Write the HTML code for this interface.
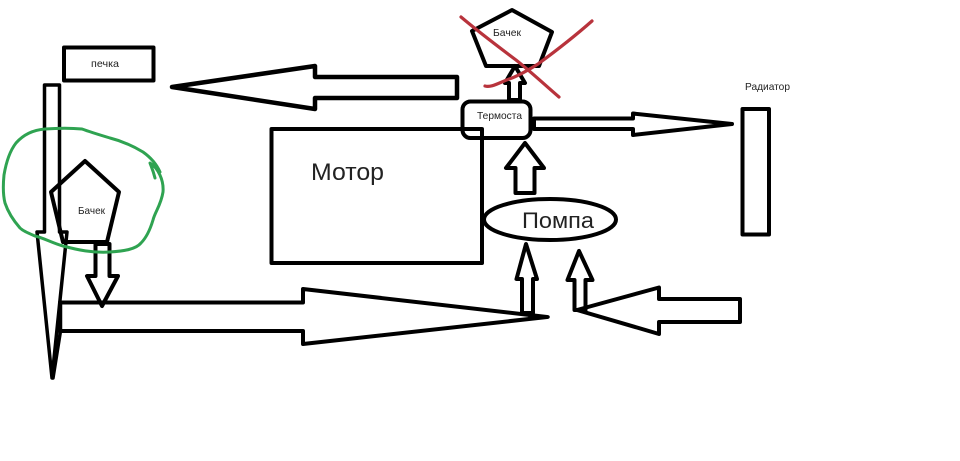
<!DOCTYPE html>
<html>
<head>
<meta charset="utf-8">
<style>
html,body{margin:0;padding:0;background:#fff;width:960px;height:461px;overflow:hidden}
svg{display:block}
text{font-family:"Liberation Sans","Noto Sans CJK SC",sans-serif;fill:#222}
</style>
</head>
<body>
<svg width="960" height="461" viewBox="0 0 960 461" xmlns="http://www.w3.org/2000/svg">
<rect width="960" height="461" fill="#fff"/>
<g fill="none" stroke="#000" stroke-width="4" stroke-linejoin="round" stroke-linecap="round">
  <!-- печка -->
  <rect x="64" y="47.5" width="89.5" height="33" stroke-width="4"/>
  <!-- вертикальная стрелка вниз -->
  <polygon points="44.5,85 59.5,85 59.5,232 67,232 52,378 37,232 44.5,232" stroke-width="3.5"/>
  <path d="M60.5,302 L60.5,331 L53,378" stroke-width="3.5"/>
  <!-- бачек слева -->
  <polygon points="85,161 119,192 107,242 63,242 51,192"/>
  <!-- вниз -->
  <polygon points="95.5,244 109.5,244 109.5,276 118,276 102,306 87,276 95.5,276"/>
  <!-- длинная стрелка -->
  <polygon points="60,302.5 303,302.5 303,289 547,317 303,344 303,331 60,331"/>
  <!-- стрелка к печке -->
  <polygon points="172,87 315,66 315,77 457,77 457,98 315,98 315,109" stroke-width="4.5"/>
  <!-- мотор -->
  <rect x="271.5" y="129" width="210.5" height="134"/>
  <!-- термостат -->
  <rect x="462.5" y="101.5" width="68" height="36.5" rx="8" ry="8"/>
  <!-- бачек верх -->
  <polygon points="512,10 552,32 539,66 486,66 472,31"/>
  <polygon points="509,100 509,83 505,83 515,66 525,83 520,83 520,100"/>
  <!-- вправо к радиатору -->
  <polygon points="534,118.5 633,118.5 633,113.5 732,124 633,135 633,129 534,129"/>
  <!-- радиатор -->
  <rect x="742.5" y="109" width="26.5" height="125.5"/>
  <!-- вверх от помпы к термостату -->
  <polygon points="515.5,193 534.5,193 534.5,168 544,168 525,143 506,168 515.5,168"/>
  <!-- помпа -->
  <ellipse cx="550" cy="219.5" rx="66" ry="20.5"/>
  <!-- стрелки к помпе -->
  <polygon points="522,313 533,313 533,279 537,279 526,244 516.5,279 522,279"/>
  <polygon points="574.5,310 585.5,310 585.5,280 592.5,280 579,251 567.5,280 574.5,280"/>
  <!-- стрелка справа -->
  <polygon points="577,310 659,287.5 659,299 740,299 740,322 659,322 659,334"/>
</g>
<path d="M530,316.5 L548,317" stroke="#000" stroke-width="3.5" stroke-linecap="round"/>
<!-- зелёный контур -->
<path d="M155,178 C153,170 151,166 150,163 C158,168 164,180 163,192 C161,205 155,212 153,220 C150,230 146,238 141,243 C136,249 125,251 110,252 C92,253 78,250 63,246 C52,243 44,238 35,236 C28,233 23,231 20,228 C13,220 8,212 5,203 C3,195 3,185 4,175 C6,163 9,152 16,143 C23,135 33,130 45,129 C58,128 72,128 82,129 C90,132 100,135 110,138 C122,141 133,146 143,152 C150,157 156,163 160,172" fill="none" stroke="#2fa351" stroke-width="3" stroke-linecap="round" stroke-linejoin="round"/>
<!-- красный крест -->
<g fill="none" stroke="#b8333c" stroke-width="3.2" stroke-linecap="round">
  <path d="M461,17 C480,33 500,48 516,60 C530,71 545,85 559,97"/>
  <path d="M485,86 C492,88 500,82 512,78 C522,74 530,69 538,64 C553,53 575,36 592,21"/>
</g>
<!-- подписи -->
<text x="91" y="67" font-size="10.5" textLength="28" lengthAdjust="spacingAndGlyphs">печка</text>
<text x="78" y="214" font-size="10.5" textLength="27" lengthAdjust="spacingAndGlyphs">Бачек</text>
<text x="493" y="36" font-size="10.5" textLength="28" lengthAdjust="spacingAndGlyphs">Бачек</text>
<text x="477" y="119" font-size="10.5" textLength="45" lengthAdjust="spacingAndGlyphs">Термоста</text>
<text x="745" y="90" font-size="10.5" textLength="45" lengthAdjust="spacingAndGlyphs">Радиатор</text>
<text x="311" y="180" font-size="24" textLength="73" lengthAdjust="spacingAndGlyphs">Мотор</text>
<text x="522" y="228" font-size="22" textLength="72" lengthAdjust="spacingAndGlyphs">Помпа</text>
</svg>
</body>
</html>
